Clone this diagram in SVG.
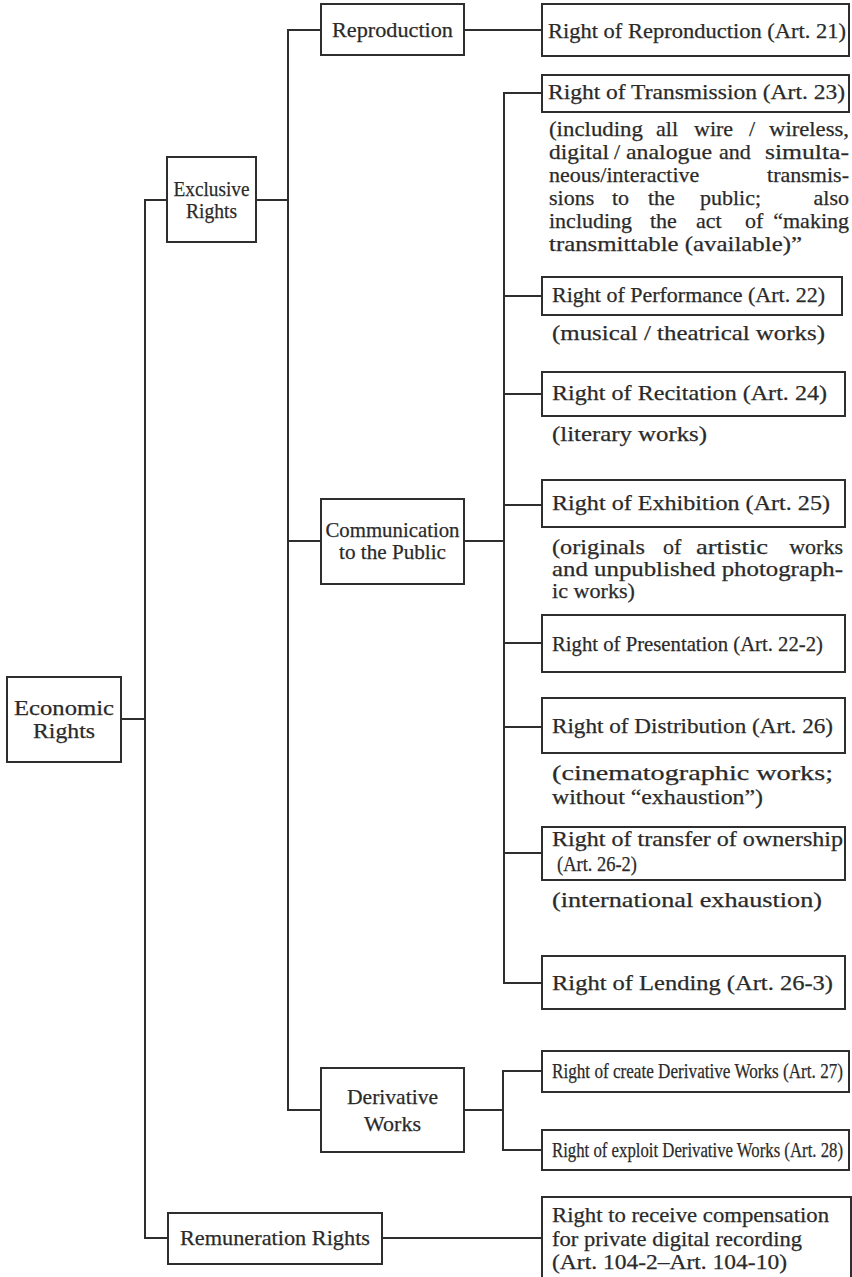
<svg xmlns="http://www.w3.org/2000/svg" width="852" height="1277" viewBox="0 0 852 1277">
<style>
.box{fill:#fff;stroke:#2e2e2e;stroke-width:2}
.ln{fill:none;stroke:#2e2e2e;stroke-width:2;stroke-linecap:square}
text{font-family:"Liberation Serif","Times New Roman",serif;font-size:22px;fill:#2a2a2a;stroke:#2a2a2a;stroke-width:0.25}
.c{text-anchor:middle}
.e{text-anchor:end}
</style>
<rect width="852" height="1277" fill="#fff"/>
<g id="connectors">
<path class="ln" d="M121,719 H145 M145,200 V1238 M145,200 H167 M145,1238 H168 M256,200 H288 M288,30 V1110 M288,30 H321 M288,541 H321 M288,1110 H321 M464,30 H542 M464,541 H504 M504,93 V983 M504,93 H542 M504,296 H542 M504,394 H542 M504,505 H542 M504,643 H542 M504,727 H542 M504,853 H542 M504,983 H542 M464,1110 H503 M503,1071 V1150 M503,1071 H542 M503,1150 H542 M382,1238 H542"/>
</g>
<g id="economic">
<rect class="box" x="7" y="677" width="114" height="85"/>
<text class="c" x="64" y="715" textLength="100" lengthAdjust="spacingAndGlyphs">Economic</text>
<text class="c" x="64" y="738" textLength="62" lengthAdjust="spacingAndGlyphs">Rights</text>
</g>
<g id="exclusive">
<rect class="box" x="167" y="157" width="89" height="85"/>
<text class="c" x="211.5" y="196" textLength="76" lengthAdjust="spacingAndGlyphs">Exclusive</text>
<text class="c" x="211.5" y="218" textLength="51" lengthAdjust="spacingAndGlyphs">Rights</text>
</g>
<g id="reproduction">
<rect class="box" x="321" y="4" width="143" height="51"/>
<text class="c" x="392.5" y="37" textLength="121" lengthAdjust="spacingAndGlyphs">Reproduction</text>
</g>
<g id="communication">
<rect class="box" x="321" y="499" width="143" height="85"/>
<text class="c" x="392.5" y="537" textLength="134" lengthAdjust="spacingAndGlyphs">Communication</text>
<text class="c" x="392.5" y="559" textLength="107" lengthAdjust="spacingAndGlyphs">to the Public</text>
</g>
<g id="derivative">
<rect class="box" x="321" y="1068" width="143" height="84"/>
<text class="c" x="392.5" y="1104" textLength="91" lengthAdjust="spacingAndGlyphs">Derivative</text>
<text class="c" x="392.5" y="1131" textLength="57" lengthAdjust="spacingAndGlyphs">Works</text>
</g>
<g id="remuneration">
<rect class="box" x="168" y="1213" width="214" height="51"/>
<text class="c" x="275" y="1245" textLength="190" lengthAdjust="spacingAndGlyphs">Remuneration Rights</text>
</g>
<g id="art21">
<rect class="box" x="542" y="4" width="307" height="52"/>
<text x="548" y="38" textLength="298" lengthAdjust="spacingAndGlyphs">Right of Repronduction (Art. 21)</text>
</g>
<g id="art23">
<rect class="box" x="542" y="75" width="307" height="37"/>
<text x="548" y="99" textLength="297" lengthAdjust="spacingAndGlyphs">Right of Transmission (Art. 23)</text>
<text x="549" y="136" textLength="94" lengthAdjust="spacingAndGlyphs">(including</text>
<text x="656" y="136">all</text>
<text x="694" y="136">wire</text>
<text x="749" y="136">/</text>
<text class="e" x="849" y="136" textLength="80" lengthAdjust="spacingAndGlyphs">wireless,</text>
<text x="549" y="159" textLength="60" lengthAdjust="spacingAndGlyphs">digital</text>
<text x="614" y="159">/</text>
<text x="626" y="159" textLength="86" lengthAdjust="spacingAndGlyphs">analogue</text>
<text x="719" y="159">and</text>
<text class="e" x="849" y="159" textLength="84" lengthAdjust="spacingAndGlyphs">simulta-</text>
<text x="549" y="182">neous/interactive</text>
<text class="e" x="849" y="182">transmis-</text>
<text x="549" y="205">sions</text>
<text x="612" y="205">to</text>
<text x="648" y="205">the</text>
<text x="700" y="205">public;</text>
<text class="e" x="849" y="205">also</text>
<text x="549" y="228">including</text>
<text x="650" y="228">the</text>
<text x="696" y="228">act</text>
<text x="745" y="228">of</text>
<text class="e" x="849" y="228">“making</text>
<text x="549" y="251" textLength="253" lengthAdjust="spacingAndGlyphs">transmittable (available)”</text>
</g>
<g id="art22">
<rect class="box" x="542" y="277" width="300" height="38"/>
<text x="552" y="302" textLength="273" lengthAdjust="spacingAndGlyphs">Right of Performance (Art. 22)</text>
<text x="552" y="340" textLength="273" lengthAdjust="spacingAndGlyphs">(musical / theatrical works)</text>
</g>
<g id="art24">
<rect class="box" x="542" y="372" width="303" height="44"/>
<text x="552" y="400" textLength="275" lengthAdjust="spacingAndGlyphs">Right of Recitation (Art. 24)</text>
<text x="552" y="441" textLength="155" lengthAdjust="spacingAndGlyphs">(literary works)</text>
</g>
<g id="art25">
<rect class="box" x="542" y="480" width="303" height="47"/>
<text x="552" y="510" textLength="278" lengthAdjust="spacingAndGlyphs">Right of Exhibition (Art. 25)</text>
<text x="552" y="554" textLength="93" lengthAdjust="spacingAndGlyphs">(originals</text>
<text x="663" y="554">of</text>
<text x="696" y="554" textLength="72" lengthAdjust="spacingAndGlyphs">artistic</text>
<text class="e" x="843" y="554">works</text>
<text x="552" y="576" textLength="291" lengthAdjust="spacingAndGlyphs">and unpublished photograph-</text>
<text x="552" y="598" textLength="83" lengthAdjust="spacingAndGlyphs">ic works)</text>
</g>
<g id="art22-2">
<rect class="box" x="542" y="615" width="303" height="57"/>
<text x="552" y="651" textLength="271" lengthAdjust="spacingAndGlyphs">Right of Presentation (Art. 22-2)</text>
</g>
<g id="art26">
<rect class="box" x="542" y="698" width="303" height="55"/>
<text x="552" y="733" textLength="281" lengthAdjust="spacingAndGlyphs">Right of Distribution (Art. 26)</text>
<text x="552" y="780" textLength="281" lengthAdjust="spacingAndGlyphs">(cinematographic works;</text>
<text x="552" y="804" textLength="211" lengthAdjust="spacingAndGlyphs">without “exhaustion”)</text>
</g>
<g id="art26-2">
<rect class="box" x="542" y="827" width="303" height="53"/>
<text x="552" y="846" textLength="291" lengthAdjust="spacingAndGlyphs">Right of transfer of ownership</text>
<text x="557" y="871" textLength="80" lengthAdjust="spacingAndGlyphs">(Art. 26-2)</text>
<text x="552" y="907" textLength="270" lengthAdjust="spacingAndGlyphs">(international exhaustion)</text>
</g>
<g id="art26-3">
<rect class="box" x="542" y="956" width="303" height="53"/>
<text x="552" y="990" textLength="281" lengthAdjust="spacingAndGlyphs">Right of Lending (Art. 26-3)</text>
</g>
<g id="art27">
<rect class="box" x="542" y="1051" width="307" height="41"/>
<text x="552" y="1078" textLength="291" lengthAdjust="spacingAndGlyphs">Right of create Derivative Works (Art. 27)</text>
</g>
<g id="art28">
<rect class="box" x="542" y="1130" width="307" height="40"/>
<text x="552" y="1157" textLength="291" lengthAdjust="spacingAndGlyphs">Right of exploit Derivative Works (Art. 28)</text>
</g>
<g id="art104">
<rect class="box" x="542" y="1197" width="309" height="90"/>
<text x="552" y="1222" textLength="277" lengthAdjust="spacingAndGlyphs">Right to receive compensation</text>
<text x="552" y="1246" textLength="250" lengthAdjust="spacingAndGlyphs">for private digital recording</text>
<text x="552" y="1269" textLength="235" lengthAdjust="spacingAndGlyphs">(Art. 104-2–Art. 104-10)</text>
</g>
</svg>
